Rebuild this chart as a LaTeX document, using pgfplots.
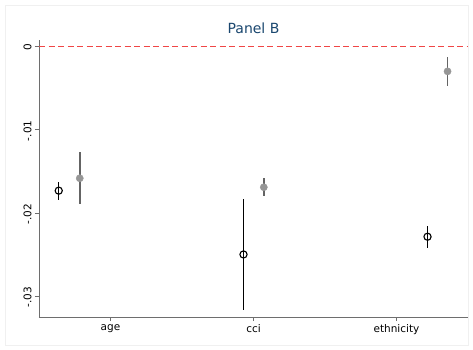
\documentclass[border=0pt]{standalone}
\usepackage{pgfplots}
\pgfplotsset{compat=1.18}
\usepackage{pgfplotstable}
\usepackage{fontspec}
\setmainfont{DejaVu Sans}
\definecolor{titleblue}{RGB}{26,71,111}
\definecolor{axgray}{RGB}{110,110,110}
\definecolor{ptgray}{RGB}{150,150,150}
\definecolor{lngray}{RGB}{100,100,100}
\definecolor{refred}{RGB}{240,70,70}
\pgfplotstableread{
x y ep em
0.638 -0.01731 0.00108 0.00112
1.930 -0.02498 0.00663 0.00662
3.217 -0.02285 0.00132 0.00133
}\blackser
\pgfplotstableread{
x y ep em
0.785 -0.01582 0.00317 0.00313
2.072 -0.01690 0.00108 0.00105
3.357 -0.00297 0.00173 0.00173
}\grayser
\begin{document}
\begin{tikzpicture}[x=1pt,y=1pt]
\useasboundingbox[fill=white] (0,0) rectangle (473,349);
\draw[black!6] (5,4) rectangle (468,344);
\begin{axis}[
  at={(39pt,32pt)}, anchor=south west,
  scale only axis, width=429pt, height=277pt,
  xmin=0.5, xmax=3.5, ymin=-0.0325, ymax=0.0008,
  axis x line*=bottom, axis y line*=left,
  axis line style={axgray, line width=0.9pt, -},
  xtick={1,2,3}, xticklabels={age,cci,ethnicity},
  ytick={-0.03,-0.02,-0.01,0},
  yticklabels={-.03,-.02,-.01,0},
  yticklabel style={rotate=90, anchor=south, font=\fontsize{10.5}{12}\selectfont, xshift=-1pt},
  xticklabel style={font=\fontsize{10.5}{12}\selectfont},
  tick style={axgray, line width=0.9pt},
  tick align=outside, major tick length=4pt,
  scaled y ticks=false,
  clip=false,
]
\addplot[refred, line width=1pt, dash pattern=on 6pt off 3.5pt, forget plot] coordinates {(0.5,0) (3.5,0)};
\addplot[only marks, mark=*, mark size=3.6pt, mark options={fill=ptgray, draw=ptgray},
  error bars/.cd, y dir=both, y explicit, error mark=none,
  error bar style={lngray, line width=1.5pt}]
  table[x=x, y=y, y error plus=ep, y error minus=em] {\grayser};
\addplot[only marks, mark=o, mark size=3.6pt, mark options={draw=black, line width=1.1pt},
  error bars/.cd, y dir=both, y explicit, error mark=none,
  error bar style={black, line width=1.4pt}]
  table[x=x, y=y, y error plus=ep, y error minus=em] {\blackser};
\end{axis}
\node[font=\fontsize{14}{16}\selectfont, text=titleblue] at (253.5,321) {Panel B};
\end{tikzpicture}
\end{document}
